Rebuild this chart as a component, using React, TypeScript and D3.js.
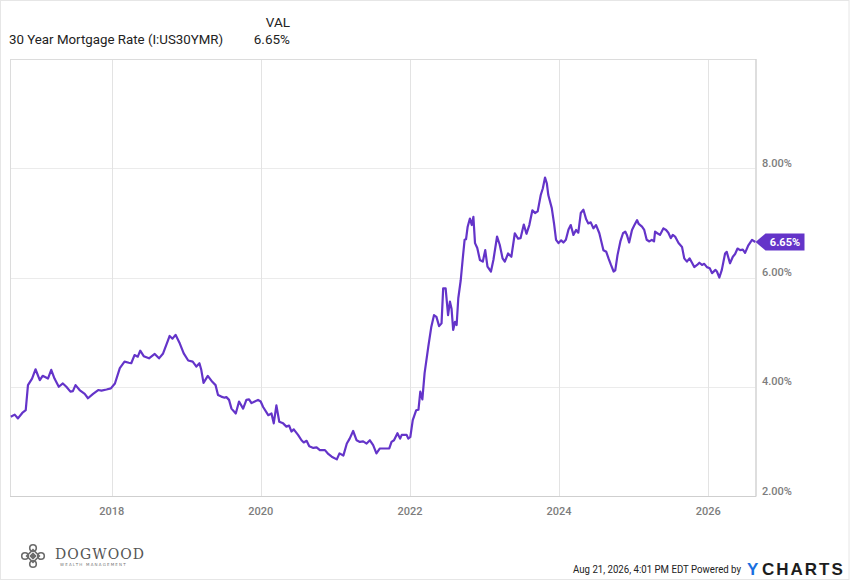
import React, { useRef, useEffect } from 'react';
import * as d3 from 'd3';

// Weekly-ish readings of the 30 year mortgage rate (%)
const dates: string[] = [
  '2016-08-25', '2016-09-13', '2016-09-29', '2016-10-20', '2016-11-06', '2016-11-17', '2016-12-07', '2016-12-24',
  '2017-01-14', '2017-01-28', '2017-02-23', '2017-03-11', '2017-03-27', '2017-04-17', '2017-05-07', '2017-05-24',
  '2017-06-13', '2017-06-25', '2017-07-08', '2017-07-28', '2017-08-22', '2017-09-07', '2017-10-02', '2017-10-27',
  '2017-11-12', '2017-12-07', '2017-12-28', '2018-01-17', '2018-02-10', '2018-03-05', '2018-03-26', '2018-04-07',
  '2018-04-23', '2018-05-09', '2018-05-21', '2018-06-07', '2018-07-03', '2018-07-31', '2018-08-21', '2018-09-10',
  '2018-10-04', '2018-10-12', '2018-10-26', '2018-11-10', '2018-12-01', '2018-12-20', '2019-01-11', '2019-02-02',
  '2019-02-20', '2019-03-07', '2019-03-16', '2019-03-27', '2019-04-17', '2019-05-09', '2019-05-25', '2019-06-06',
  '2019-06-22', '2019-07-08', '2019-07-17', '2019-07-30', '2019-08-11', '2019-09-01', '2019-09-17', '2019-10-07',
  '2019-10-23', '2019-11-05', '2019-11-17', '2019-12-03', '2019-12-19', '2020-01-01', '2020-01-13', '2020-02-07',
  '2020-02-23', '2020-03-05', '2020-03-18', '2020-04-01', '2020-04-20', '2020-05-06', '2020-05-19', '2020-05-31',
  '2020-06-11', '2020-07-02', '2020-07-19', '2020-07-30', '2020-08-13', '2020-08-26', '2020-09-15', '2020-10-01',
  '2020-10-17', '2020-11-11', '2020-11-27', '2020-12-14', '2021-01-08', '2021-01-21', '2021-02-09', '2021-02-26',
  '2021-03-12', '2021-03-29', '2021-04-15', '2021-05-01', '2021-05-17', '2021-06-03', '2021-06-19', '2021-07-05',
  '2021-07-21', '2021-08-07', '2021-09-01', '2021-09-22', '2021-10-03', '2021-10-15', '2021-11-01', '2021-11-14',
  '2021-11-22', '2021-12-16', '2021-12-24', '2022-01-03', '2022-01-15', '2022-02-01', '2022-02-12', '2022-02-21',
  '2022-03-03', '2022-03-14', '2022-04-01', '2022-04-16', '2022-04-29', '2022-05-11', '2022-05-24', '2022-06-05',
  '2022-06-13', '2022-06-25', '2022-07-07', '2022-07-16', '2022-07-24', '2022-08-01', '2022-08-10', '2022-08-18',
  '2022-08-26', '2022-09-07', '2022-09-17', '2022-09-26', '2022-10-03', '2022-10-11', '2022-10-22', '2022-10-31',
  '2022-11-08', '2022-11-16', '2022-11-27', '2022-12-10', '2022-12-24', '2023-01-05', '2023-01-16', '2023-02-02',
  '2023-02-14', '2023-03-04', '2023-03-17', '2023-03-31', '2023-04-11', '2023-04-27', '2023-05-13', '2023-05-30',
  '2023-06-15', '2023-06-27', '2023-07-13', '2023-07-26', '2023-08-09', '2023-08-24', '2023-09-06', '2023-09-19',
  '2023-10-04', '2023-10-14', '2023-10-25', '2023-11-03', '2023-11-10', '2023-11-27', '2023-12-08', '2023-12-18',
  '2023-12-30', '2024-01-12', '2024-01-23', '2024-02-04', '2024-02-17', '2024-02-28', '2024-03-12', '2024-03-25',
  '2024-04-05', '2024-04-17', '2024-04-30', '2024-05-13', '2024-05-24', '2024-06-05', '2024-06-18', '2024-07-01',
  '2024-07-17', '2024-08-06', '2024-08-20', '2024-08-31', '2024-09-12', '2024-09-25', '2024-10-03', '2024-10-14',
  '2024-10-28', '2024-11-10', '2024-11-21', '2024-11-29', '2024-12-10', '2024-12-24', '2025-01-05', '2025-01-18',
  '2025-01-26', '2025-02-11', '2025-02-22', '2025-03-06', '2025-03-19', '2025-03-31', '2025-04-11', '2025-04-16',
  '2025-04-27', '2025-05-10', '2025-05-27', '2025-06-09', '2025-06-20', '2025-07-02', '2025-07-12', '2025-07-23',
  '2025-08-09', '2025-08-26', '2025-09-06', '2025-09-19', '2025-10-02', '2025-10-14', '2025-10-25', '2025-11-08',
  '2025-11-19', '2025-12-02', '2025-12-13', '2025-12-26', '2026-01-09', '2026-01-20', '2026-02-06', '2026-02-13',
  '2026-02-25', '2026-03-09', '2026-03-25', '2026-04-02', '2026-04-18', '2026-05-02', '2026-05-13', '2026-05-25',
  '2026-06-07', '2026-06-20', '2026-07-01', '2026-07-17', '2026-08-04', '2026-08-20'
];

const rates: number[] = [
  3.45, 3.49, 3.42, 3.52, 3.57, 4.03, 4.15, 4.32,
  4.12, 4.20, 4.15, 4.31, 4.15, 4.00, 4.06, 4.00,
  3.91, 3.92, 4.03, 3.94, 3.87, 3.79, 3.87, 3.94,
  3.93, 3.95, 3.97, 4.06, 4.34, 4.46, 4.44, 4.43,
  4.58, 4.55, 4.66, 4.56, 4.52, 4.60, 4.52, 4.61,
  4.85, 4.93, 4.88, 4.95, 4.79, 4.61, 4.48, 4.46,
  4.37, 4.43, 4.31, 4.07, 4.20, 4.09, 4.03, 3.85,
  3.82, 3.80, 3.81, 3.76, 3.60, 3.51, 3.73, 3.60,
  3.76, 3.77, 3.70, 3.73, 3.76, 3.73, 3.63, 3.48,
  3.51, 3.33, 3.66, 3.36, 3.33, 3.27, 3.29, 3.18,
  3.22, 3.12, 3.02, 2.98, 3.01, 2.91, 2.88, 2.89,
  2.84, 2.84, 2.77, 2.72, 2.67, 2.78, 2.74, 2.96,
  3.05, 3.19, 3.02, 2.99, 3.00, 2.96, 3.02, 2.93,
  2.78, 2.87, 2.87, 2.87, 2.99, 3.02, 3.15, 3.05,
  3.12, 3.12, 3.05, 3.08, 3.39, 3.57, 3.58, 3.91,
  3.77, 4.25, 4.73, 5.10, 5.31, 5.28, 5.11, 5.16,
  5.80, 5.80, 5.31, 5.56, 5.43, 5.04, 5.19, 5.13,
  5.62, 5.95, 6.35, 6.69, 6.70, 6.93, 7.08, 6.96,
  7.11, 6.63, 6.54, 6.32, 6.29, 6.50, 6.20, 6.11,
  6.32, 6.75, 6.60, 6.35, 6.29, 6.44, 6.38, 6.81,
  6.71, 6.72, 6.97, 6.80, 6.96, 7.23, 7.18, 7.21,
  7.51, 7.63, 7.83, 7.72, 7.51, 7.27, 6.99, 6.69,
  6.63, 6.68, 6.64, 6.69, 6.88, 6.96, 6.78, 6.87,
  6.82, 7.18, 7.24, 7.07, 6.99, 7.01, 6.90, 6.96,
  6.81, 6.50, 6.47, 6.35, 6.23, 6.11, 6.13, 6.41,
  6.66, 6.81, 6.84, 6.78, 6.64, 6.87, 6.96, 7.05,
  6.98, 6.93, 6.87, 6.69, 6.66, 6.69, 6.66, 6.84,
  6.81, 6.78, 6.90, 6.87, 6.82, 6.72, 6.78, 6.75,
  6.63, 6.56, 6.35, 6.29, 6.35, 6.27, 6.19, 6.23,
  6.27, 6.23, 6.25, 6.19, 6.17, 6.08, 6.14, 6.11,
  6.00, 6.14, 6.44, 6.47, 6.26, 6.38, 6.43, 6.53,
  6.50, 6.51, 6.45, 6.59, 6.69, 6.65
];

const yTicks = [2, 4, 6, 8];
const xTickYears = [2018, 2020, 2022, 2024, 2026];
const seriesLabel = '30 Year Mortgage Rate (I:US30YMR)';
const lastValue = 6.65;
const timestamp = 'Aug 21, 2026, 4:01 PM EDT Powered by';

const WIDTH = 850;
const HEIGHT = 583;
const LINE_COLOR = '#6434c9';
const FONT = 'Roboto, "Noto Sans", sans-serif';

const App: React.FC = () => {
  const svgRef = useRef<SVGSVGElement>(null);

  useEffect(() => {
    if (!svgRef.current) return;
    const svg = d3.select(svgRef.current);
    svg.selectAll('*').remove();

    const parse = d3.timeParse('%Y-%m-%d');
    const data = dates.map((d, i) => ({ date: parse(d) as Date, value: rates[i] }));

    const plot = { left: 10, right: 755.5, top: 59, bottom: 496 };

    const x = d3.scaleTime()
      .domain([new Date(2016, 7, 21), new Date(2026, 7, 21)])
      .range([plot.left, plot.right]);
    const y = d3.scaleLinear()
      .domain([2, 10])
      .range([plot.bottom, plot.top]);

    // outer frame
    svg.append('rect')
      .attr('x', 0.5).attr('y', 0.5)
      .attr('width', WIDTH - 1.5).attr('height', 579)
      .attr('fill', '#fff')
      .attr('stroke', '#e6e6e6');

    // header
    const header = svg.append('g').style('font-family', FONT).style('fill', '#222');
    header.append('text').attr('x', 9).attr('y', 44).style('font-size', '13.3px').text(seriesLabel);
    header.append('text').attr('x', 290).attr('y', 27).attr('text-anchor', 'end').style('font-size', '13.5px').text('VAL');
    header.append('text').attr('x', 290).attr('y', 44).attr('text-anchor', 'end').style('font-size', '13.5px')
      .text(d3.format('.2f')(lastValue) + '%');

    // plot frame + grid
    const g = svg.append('g');
    g.selectAll('.hgrid')
      .data(yTicks.filter(t => t > 2))
      .enter()
      .append('line')
      .attr('x1', plot.left).attr('x2', plot.right)
      .attr('y1', d => Math.round(y(d)) + 0.5).attr('y2', d => Math.round(y(d)) + 0.5)
      .attr('stroke', '#ebebeb');

    g.selectAll('.vgrid')
      .data(xTickYears)
      .enter()
      .append('line')
      .attr('x1', d => Math.round(x(new Date(d, 0, 1))) + 0.5)
      .attr('x2', d => Math.round(x(new Date(d, 0, 1))) + 0.5)
      .attr('y1', plot.top).attr('y2', plot.bottom)
      .attr('stroke', '#e3e3e3');

    g.append('rect')
      .attr('x', plot.left + 0.5).attr('y', plot.top + 0.5)
      .attr('width', plot.right - plot.left).attr('height', plot.bottom - plot.top)
      .attr('fill', 'none')
      .attr('stroke', '#dcdcdc');

    g.append('line')
      .attr('x1', plot.left).attr('x2', plot.right + 0.5)
      .attr('y1', plot.bottom + 0.5).attr('y2', plot.bottom + 0.5)
      .attr('stroke', '#cfcfcf');
    g.append('line')
      .attr('x1', plot.right + 0.5).attr('x2', plot.right + 0.5)
      .attr('y1', plot.top).attr('y2', plot.bottom)
      .attr('stroke', '#cfcfcf');

    // axis labels
    svg.append('g')
      .selectAll('text')
      .data(xTickYears)
      .enter()
      .append('text')
      .attr('x', d => x(new Date(d, 0, 1)))
      .attr('y', 515)
      .attr('text-anchor', 'middle')
      .style('font-family', FONT)
      .style('font-size', '11px')
      .style('font-weight', 500)
      .style('fill', '#7d7d7d')
      .text(d => String(d));

    svg.append('g')
      .selectAll('text')
      .data(yTicks)
      .enter()
      .append('text')
      .attr('x', 762)
      .attr('y', d => y(d) - 1.5)
      .style('font-family', FONT)
      .style('font-size', '11px')
      .style('font-weight', 500)
      .style('fill', '#7d7d7d')
      .text(d => d3.format('.2f')(d) + '%');

    // series
    const line = d3.line<{ date: Date; value: number }>()
      .x(d => x(d.date))
      .y(d => y(d.value));

    svg.append('path')
      .datum(data)
      .attr('d', line)
      .attr('fill', 'none')
      .attr('stroke', LINE_COLOR)
      .attr('stroke-width', 2.2)
      .attr('stroke-linejoin', 'round');

    // last value flag
    const ly = y(lastValue);
    const tipX = plot.right;
    svg.append('path')
      .attr('d', `M${tipX},${ly} L${tipX + 10},${ly - 8.5} L${tipX + 49},${ly - 8.5} L${tipX + 49},${ly + 8.5} L${tipX + 10},${ly + 8.5} Z`)
      .attr('fill', LINE_COLOR);
    svg.append('text')
      .attr('x', tipX + 29.5)
      .attr('y', ly + 4)
      .attr('text-anchor', 'middle')
      .style('font-family', FONT)
      .style('font-size', '11px')
      .style('font-weight', 700)
      .style('fill', '#fff')
      .text(d3.format('.2f')(lastValue) + '%');

    // Dogwood logo
    const logo = svg.append('g').attr('transform', 'translate(33,556)');
    const knot = logo.append('g').attr('fill', 'none').attr('stroke', '#6b6b6b').attr('stroke-width', 1.6);
    [[0, -8], [8, 0], [0, 8], [-8, 0]].forEach(([dx, dy]) => {
      knot.append('circle').attr('cx', dx).attr('cy', dy).attr('r', 3.3);
    });
    knot.append('rect')
      .attr('x', -4.5).attr('y', -4.5).attr('width', 9).attr('height', 9)
      .attr('transform', 'rotate(45)');
    knot.append('rect')
      .attr('x', -1.8).attr('y', -1.8).attr('width', 3.6).attr('height', 3.6)
      .attr('transform', 'rotate(45)')
      .attr('fill', '#6b6b6b');
    svg.append('text')
      .attr('x', 55).attr('y', 559)
      .style('font-family', '"DejaVu Serif", "Liberation Serif", serif')
      .style('font-size', '14px')
      .style('letter-spacing', '1.1px')
      .style('fill', '#555')
      .text('DOGWOOD');
    svg.append('text')
      .attr('x', 60).attr('y', 565.5)
      .style('font-family', '"DejaVu Sans", sans-serif')
      .style('font-size', '4px')
      .style('letter-spacing', '1.2px')
      .style('fill', '#777')
      .text('WEALTH MANAGEMENT');

    // footer: timestamp narrowed horizontally to match the condensed original
    svg.append('text')
      .attr('transform', 'translate(573,573) scale(0.84,1)')
      .style('font-family', FONT)
      .style('font-size', '11.5px')
      .style('fill', '#222')
      .text(timestamp);
    const brandStyle = (sel: d3.Selection<SVGTextElement, unknown, null, undefined>) => sel
      .style('font-family', '"Liberation Sans", Arial, sans-serif')
      .style('font-size', '17px')
      .style('font-weight', 700);
    brandStyle(svg.append('text').attr('x', 747).attr('y', 575))
      .style('fill', '#1a6fe0')
      .text('Y');
    brandStyle(svg.append('text').attr('x', 762).attr('y', 575))
      .style('letter-spacing', '2px')
      .style('fill', '#1d1d1d')
      .text('CHARTS');
  }, []);

  return (
    <svg
      ref={svgRef}
      width={WIDTH}
      height={HEIGHT}
      viewBox={`0 0 ${WIDTH} ${HEIGHT}`}
      style={{ position: 'absolute', left: 0, top: 0, background: '#fff' }}
    />
  );
};

export default App;
